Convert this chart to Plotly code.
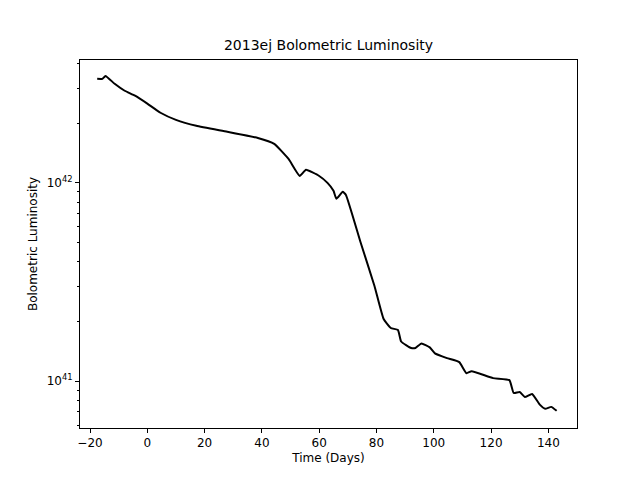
import numpy as np
import plotly.graph_objects as go

# Days since peak and log10 bolometric luminosity
days = [-17.5, -15.7, -14.6, -11.4, -7.9, -4.3, 0, 4.6, 10, 17.1, 27.9, 38.6, 44.3,
        49.3, 53.2, 55.4, 60, 62.9, 65, 66, 68.2, 69.3, 74.3, 79.3, 82.5, 85, 87.5,
        88.6, 92.1, 93.6, 95.7, 98.6, 100.4, 104.6, 108.9, 111.4, 113.2, 120.7,
        126.4, 127.9, 130, 131.8, 134.3, 137.1, 138.9, 141, 142.9]
log_lum = [42.525, 42.525, 42.54, 42.5, 42.465, 42.44, 42.4, 42.354, 42.318, 42.288,
           42.258, 42.227, 42.197, 42.121, 42.035, 42.066, 42.035, 42.0, 41.96, 41.92,
           41.955, 41.94, 41.707, 41.48, 41.313, 41.268, 41.258, 41.2, 41.167, 41.167,
           41.19, 41.17, 41.14, 41.116, 41.096, 41.04, 41.05, 41.015, 41.005, 40.94,
           40.945, 40.92, 40.935, 40.88, 40.86, 40.87, 40.85]
lum = [10 ** v for v in log_lum]

FONT = 'DejaVu Sans, sans-serif'

fig = go.Figure()
fig.add_trace(go.Scatter(x=days, y=lum, mode='lines', line_shape='spline',
                         line=dict(color='black', width=2, smoothing=0.4),
                         showlegend=False))

axis_common = dict(showgrid=False, zeroline=False, showline=True, mirror=True,
                   linecolor='black', linewidth=1, ticks='outside', ticklen=4,
                   tickcolor='black', tickfont=dict(size=12, color='black'))

fig.update_layout(
    width=640, height=480,
    plot_bgcolor='white', paper_bgcolor='white',
    font=dict(family=FONT, size=12, color='black'),
    margin=dict(l=72, r=71, t=52, b=60),
    title=dict(text='2013ej Bolometric Luminosity', x=(72 + 497 / 2) / 640,
               xanchor='center', y=1 - 37 / 480, yanchor='middle',
               font=dict(size=14)),
    xaxis=dict(title=dict(text='Time (Days)', font=dict(size=12), standoff=4),
               range=[-23.5, 150], tickvals=list(range(-20, 141, 20)), **axis_common),
    yaxis=dict(type='log', title=dict(text='Bolometric Luminosity', font=dict(size=12),
                                      standoff=6),
               range=[np.log10(5.8e40), np.log10(4.17e42)],
               tickvals=[1e41, 1e42], ticktext=['10<sup>41</sup>', '10<sup>42</sup>'],
               minor=dict(ticks='outside', ticklen=2, tickcolor='black',
                          tickvals=[6e40, 7e40, 8e40, 9e40, 2e41, 3e41, 4e41, 5e41,
                                    6e41, 7e41, 8e41, 9e41, 2e42, 3e42, 4e42]),
               **axis_common),
)

fig.write_html("out.html")
